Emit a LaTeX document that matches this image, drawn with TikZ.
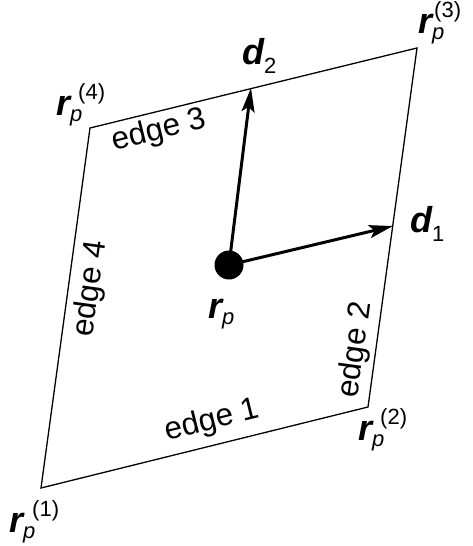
\documentclass[tikz,border=0pt]{standalone}
\usepackage{fontspec}
\setmainfont{Liberation Sans}
\usetikzlibrary{arrows.meta}
\newcommand{\bigsym}[1]{{\fontsize{36}{40}\selectfont\bfseries\itshape #1}}
\newcommand{\smallt}[1]{{\fontsize{22}{26}\selectfont #1}}
\newcommand{\rplab}[2]{\bigsym{r}\rlap{\raisebox{-6pt}{\smallt{\itshape p}}}\kern#2\raisebox{16pt}{\smallt{(#1)}}}
\newcommand{\dlab}[1]{\bigsym{d}\raisebox{-9pt}{\smallt{#1}}}
\begin{document}
\begin{tikzpicture}[x=1pt,y=-1pt,
  lab/.style={inner sep=0pt, anchor=base west},
  edgelab/.style={font=\fontsize{31.5}{36}\selectfont, inner sep=0pt},
  vec/.style={line width=3pt, -{Stealth[length=24pt,width=13pt,inset=5pt]}},
  side/.style={line width=1.3pt, line join=miter},
  dot/.style={circle, fill=black, minimum size=29pt, inner sep=0pt}]
\useasboundingbox (0,0) rectangle (472,546);
\coordinate (c1) at (41,488);
\coordinate (c2) at (368,407);
\coordinate (c3) at (417,48);
\coordinate (c4) at (90,128);
\coordinate (t1) at (393,226);
\coordinate (t2) at (251,88);
\draw[side] (c1) -- (c2) -- (c3) -- (c4) -- cycle;
\node[dot] (P) at (229,265) {};
\draw[vec] (P.center) -- (t1);
\draw[vec] (P.center) -- (t2);
\node[edgelab, rotate=13.9] (e1) at (212,421) {edge 1};
\node[edgelab, rotate=13.8] (e3) at (159,131) {edge 3};
\node[edgelab, rotate=82.2] (e4) at (91,289) {edge 4};
\node[edgelab, rotate=82.2] (e2) at (356,350) {edge 2};
\node[lab] (l1) at (9,532) {\rplab{1}{9pt}};
\node[lab] (l2) at (358,440) {\rplab{2}{8pt}};
\node[lab] (l3) at (418,33) {\rplab{3}{2pt}};
\node[lab] (l4) at (56,115) {\rplab{4}{8pt}};
\node[lab] (lp) at (208,318) {\bigsym{r}\raisebox{-6pt}{\smallt{\itshape p}}};
\node[lab] (ld1) at (410,232) {\dlab{1}};
\node[lab] (ld2) at (242,64) {\dlab{2}};
\end{tikzpicture}
\end{document}
